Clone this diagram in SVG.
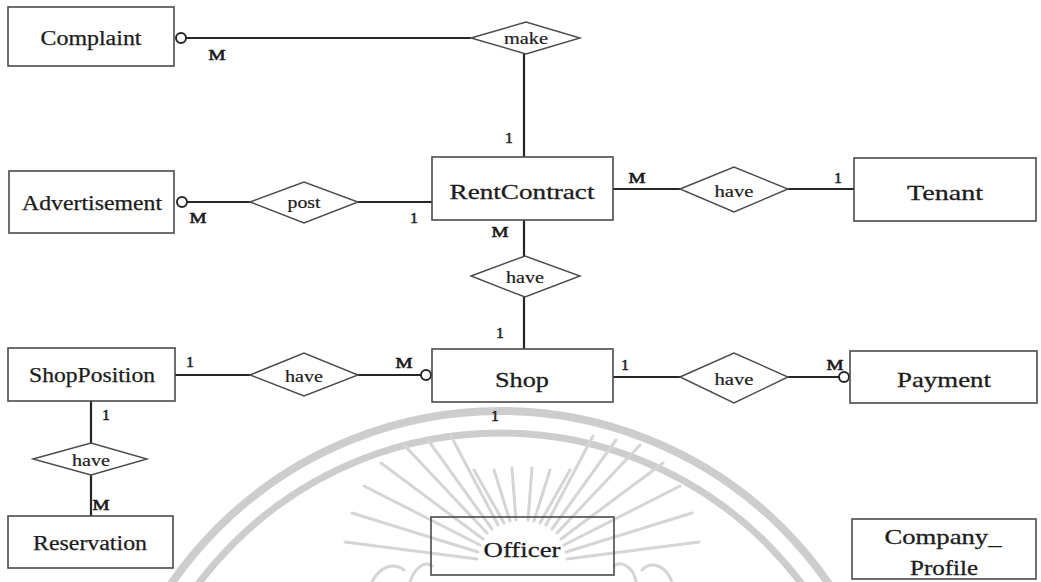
<svg xmlns="http://www.w3.org/2000/svg" width="1041" height="582" viewBox="0 0 1041 582">
  <style>
    .ent { fill: none; stroke: #4a4a4a; stroke-width: 1.6; }
    .rel { fill: #ffffff; stroke: #4a4a4a; stroke-width: 1.4; }
    .ln { stroke: #262626; stroke-width: 2.2; fill: none; }
    .opt { fill: #ffffff; stroke: #262626; stroke-width: 2; }
    .big, .mid, .rtx, .card { font-family: "Liberation Serif", "Times New Roman", serif; fill: #1c1c1c; stroke: #1c1c1c; text-anchor: middle; }
    .big { font-size: 22px; stroke-width: 0.3; dominant-baseline: central; }
    .mid { font-size: 20px; stroke-width: 0.25; dominant-baseline: central; }
    .rtx { font-size: 16px; stroke-width: 0.2; dominant-baseline: central; }
    .card { font-size: 15px; stroke-width: 0.6; }
    .ring { fill: none; stroke: #cdcdcd; }
    .ray { stroke: #d5d5d5; stroke-width: 3; stroke-linecap: round; fill: none; }
  </style>

  <rect x="0" y="0" width="1041" height="582" fill="#ffffff"/>

  <!-- faint seal in the background -->
  <g id="seal">
    <circle class="ring" cx="500" cy="810" r="399" stroke-width="8"/>
    <circle class="ring" cx="500" cy="810" r="377" stroke-width="7"/>
    <!-- sunburst around (522,565) -->
    <line class="ray" x1="477" y1="559" x2="345" y2="542"/>
    <line class="ray" x1="478" y1="552" x2="352" y2="513"/>
    <line class="ray" x1="480" y1="545" x2="364" y2="486"/>
    <line class="ray" x1="483" y1="539" x2="381" y2="463"/>
    <line class="ray" x1="487" y1="533" x2="404" y2="445"/>
    <line class="ray" x1="492" y1="529" x2="428" y2="440"/>
    <line class="ray" x1="498" y1="525" x2="451" y2="436"/>
    <line class="ray" x1="504" y1="523" x2="474" y2="470"/>
    <line class="ray" x1="510" y1="521" x2="494" y2="470"/>
    <line class="ray" x1="516" y1="520" x2="512" y2="468"/>
    <line class="ray" x1="528" y1="520" x2="532" y2="468"/>
    <line class="ray" x1="534" y1="521" x2="550" y2="470"/>
    <line class="ray" x1="540" y1="523" x2="570" y2="470"/>
    <line class="ray" x1="546" y1="525" x2="593" y2="436"/>
    <line class="ray" x1="552" y1="529" x2="616" y2="440"/>
    <line class="ray" x1="557" y1="533" x2="640" y2="445"/>
    <line class="ray" x1="561" y1="539" x2="663" y2="463"/>
    <line class="ray" x1="564" y1="545" x2="680" y2="486"/>
    <line class="ray" x1="566" y1="552" x2="692" y2="513"/>
    <line class="ray" x1="567" y1="559" x2="699" y2="542"/>
    <!-- flame strokes along the bottom -->
    <path class="ray" d="M372 582 C380 566 394 562 404 570"/>
    <path class="ray" d="M410 582 C414 568 426 560 432 566"/>
    <path class="ray" d="M614 566 C622 560 634 568 636 582"/>
    <path class="ray" d="M642 570 C652 560 666 566 672 582"/>
  </g>

  <!-- connectors -->
  <g id="connectors">
    <!-- Complaint - make - RentContract -->
    <line class="ln" x1="186" y1="38" x2="471" y2="38"/>
    <circle class="opt" cx="181" cy="38" r="5"/>
    <line class="ln" x1="524" y1="54" x2="524" y2="157"/>
    <!-- Advertisement - post - RentContract -->
    <line class="ln" x1="187" y1="202" x2="250" y2="202"/>
    <circle class="opt" cx="182" cy="202" r="5"/>
    <line class="ln" x1="358" y1="202" x2="432" y2="202"/>
    <!-- RentContract - have - Tenant -->
    <line class="ln" x1="613" y1="189" x2="680" y2="189"/>
    <line class="ln" x1="788" y1="189" x2="854" y2="189"/>
    <!-- RentContract - have - Shop -->
    <line class="ln" x1="524" y1="220" x2="524" y2="256"/>
    <line class="ln" x1="524" y1="297" x2="524" y2="349"/>
    <!-- ShopPosition - have - Shop -->
    <line class="ln" x1="175" y1="375" x2="250" y2="375"/>
    <line class="ln" x1="358" y1="375" x2="421" y2="375"/>
    <circle class="opt" cx="426" cy="375" r="5"/>
    <!-- Shop - have - Payment -->
    <line class="ln" x1="613" y1="377" x2="680" y2="377"/>
    <line class="ln" x1="788" y1="377" x2="839" y2="377"/>
    <circle class="opt" cx="844" cy="377" r="5"/>
    <!-- ShopPosition - have - Reservation -->
    <line class="ln" x1="91" y1="401" x2="91" y2="443"/>
    <line class="ln" x1="91" y1="475" x2="91" y2="516"/>

    <!-- cardinalities -->
    <text class="card" x="217" y="60" textLength="17" lengthAdjust="spacingAndGlyphs">M</text>
    <text class="card" x="509" y="143">1</text>
    <text class="card" x="198" y="223" textLength="17" lengthAdjust="spacingAndGlyphs">M</text>
    <text class="card" x="414" y="223">1</text>
    <text class="card" x="637" y="183" textLength="17" lengthAdjust="spacingAndGlyphs">M</text>
    <text class="card" x="838" y="183">1</text>
    <text class="card" x="500" y="237" textLength="17" lengthAdjust="spacingAndGlyphs">M</text>
    <text class="card" x="500" y="338">1</text>
    <text class="card" x="190" y="367">1</text>
    <text class="card" x="404" y="368" textLength="17" lengthAdjust="spacingAndGlyphs">M</text>
    <text class="card" x="625" y="370">1</text>
    <text class="card" x="835" y="370" textLength="17" lengthAdjust="spacingAndGlyphs">M</text>
    <text class="card" x="106" y="420">1</text>
    <text class="card" x="101" y="510" textLength="17" lengthAdjust="spacingAndGlyphs">M</text>
    <text class="card" x="495" y="421">1</text>
  </g>

  <!-- relationships -->
  <g id="rel-make">
    <polygon class="rel" points="471,38 526,22 580,38 526,54"/>
    <text class="rtx" x="526" y="38" textLength="44" lengthAdjust="spacingAndGlyphs">make</text>
  </g>
  <g id="rel-post">
    <polygon class="rel" points="250,202 304,182 358,202 304,223"/>
    <text class="rtx" x="304" y="202" textLength="33" lengthAdjust="spacingAndGlyphs">post</text>
  </g>
  <g id="rel-have-tenant">
    <polygon class="rel" points="680,189 734,167 788,189 734,212"/>
    <text class="rtx" x="734" y="191" textLength="39" lengthAdjust="spacingAndGlyphs">have</text>
  </g>
  <g id="rel-have-shop">
    <polygon class="rel" points="471,276 525,256 580,276 525,297"/>
    <text class="rtx" x="525" y="277" textLength="38" lengthAdjust="spacingAndGlyphs">have</text>
  </g>
  <g id="rel-have-position">
    <polygon class="rel" points="250,375 304,353 358,375 304,396"/>
    <text class="rtx" x="304" y="376" textLength="38" lengthAdjust="spacingAndGlyphs">have</text>
  </g>
  <g id="rel-have-payment">
    <polygon class="rel" points="680,377 734,353 788,377 734,403"/>
    <text class="rtx" x="734" y="379" textLength="39" lengthAdjust="spacingAndGlyphs">have</text>
  </g>
  <g id="rel-have-reservation">
    <polygon class="rel" points="33,459 91,443 147,459 91,475"/>
    <text class="rtx" x="91" y="460" textLength="38" lengthAdjust="spacingAndGlyphs">have</text>
  </g>

  <!-- entities -->
  <g id="Complaint">
    <rect class="ent" x="8" y="7" width="166" height="59"/>
    <text class="mid" x="91" y="38" textLength="101" lengthAdjust="spacingAndGlyphs">Complaint</text>
  </g>
  <g id="Advertisement">
    <rect class="ent" x="9" y="171" width="165" height="62"/>
    <text class="mid" x="92" y="203" textLength="140" lengthAdjust="spacingAndGlyphs">Advertisement</text>
  </g>
  <g id="RentContract">
    <rect class="ent" x="432" y="157" width="181" height="63"/>
    <text class="big" x="522" y="191" textLength="145" lengthAdjust="spacingAndGlyphs">RentContract</text>
  </g>
  <g id="Tenant">
    <rect class="ent" x="854" y="158" width="182" height="63"/>
    <text class="big" x="945" y="192" textLength="76" lengthAdjust="spacingAndGlyphs">Tenant</text>
  </g>
  <g id="ShopPosition">
    <rect class="ent" x="8" y="348" width="167" height="53"/>
    <text class="mid" x="92" y="375" textLength="126" lengthAdjust="spacingAndGlyphs">ShopPosition</text>
  </g>
  <g id="Shop">
    <rect class="ent" x="432" y="349" width="181" height="53"/>
    <text class="big" x="522" y="379" textLength="54" lengthAdjust="spacingAndGlyphs">Shop</text>
  </g>
  <g id="Payment">
    <rect class="ent" x="850" y="351" width="187" height="52"/>
    <text class="big" x="944" y="379" textLength="94" lengthAdjust="spacingAndGlyphs">Payment</text>
  </g>
  <g id="Reservation">
    <rect class="ent" x="8" y="516" width="165" height="52"/>
    <text class="mid" x="90" y="543" textLength="114" lengthAdjust="spacingAndGlyphs">Reservation</text>
  </g>
  <g id="Officer">
    <rect class="ent" x="431" y="517" width="183" height="58"/>
    <text class="big" x="522" y="549" textLength="77" lengthAdjust="spacingAndGlyphs">Officer</text>
  </g>
  <g id="Company_Profile">
    <rect class="ent" x="852" y="519" width="184" height="60"/>
    <text class="big" x="943" y="536" textLength="117" lengthAdjust="spacingAndGlyphs">Company_</text>
    <text class="big" x="944" y="567" textLength="68" lengthAdjust="spacingAndGlyphs">Profile</text>
  </g>
</svg>
